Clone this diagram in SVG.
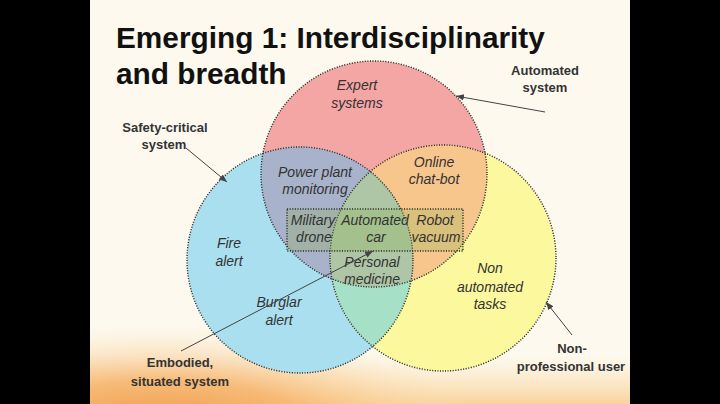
<svg xmlns="http://www.w3.org/2000/svg" width="720" height="404" viewBox="0 0 720 404">
<style>
.title{font-family:"Liberation Sans",Arial,sans-serif;font-weight:bold;font-size:29.8px;fill:#111}
.lab{font-family:"Liberation Sans",Arial,sans-serif;font-weight:bold;font-size:13px;fill:#333;text-anchor:middle}
.it{font-family:"Liberation Sans",Arial,sans-serif;font-style:italic;font-size:14px;fill:#333;text-anchor:middle}
.outline{fill:none;stroke:#2a2a2a;stroke-width:1.4;stroke-dasharray:1.1 1.5}
.conn{fill:none;stroke:#444;stroke-width:1;marker-end:url(#arr)}
</style>
<defs>
<marker id="arr" viewBox="0 0 10 10" refX="10" refY="5" markerWidth="8" markerHeight="8" markerUnits="userSpaceOnUse" orient="auto">
<path d="M0,1 L10,5 L0,9 z" fill="#444"/>
</marker>
<clipPath id="cR"><circle cx="374" cy="174" r="113"/></clipPath>
<clipPath id="cB"><circle cx="300" cy="260" r="113"/></clipPath>
<clipPath id="cY"><circle cx="443" cy="258" r="113"/></clipPath>
<clipPath id="slide"><rect x="90" y="0" width="540" height="404"/></clipPath>
<radialGradient id="glow" cx="0.5" cy="0.5" r="0.5">
<stop offset="0" stop-color="#f09848"/>
<stop offset="0.45" stop-color="#f6b46c" stop-opacity="0.85"/>
<stop offset="1" stop-color="#fbe4bd" stop-opacity="0"/>
</radialGradient>
<linearGradient id="band" x1="0" y1="0" x2="0" y2="1">
<stop offset="0" stop-color="#fbe2b8" stop-opacity="0"/>
<stop offset="1" stop-color="#f8cf92" stop-opacity="0.9"/>
</linearGradient>
</defs>
<rect x="0" y="0" width="720" height="404" fill="#000"/>
<g clip-path="url(#slide)">
<rect x="90" y="0" width="540" height="404" fill="#fdf9ee"/>
<rect x="90" y="355" width="540" height="49" fill="url(#band)"/>
<ellipse cx="160" cy="425" rx="320" ry="100" fill="url(#glow)"/>
</g>
<g id="regions">
<circle cx="374" cy="174" r="113" fill="#f4a6a4"/>
<circle cx="300" cy="260" r="113" fill="#aadff0"/>
<circle cx="443" cy="258" r="113" fill="#fbf89e"/>
<circle cx="300" cy="260" r="113" fill="#a9b2cb" clip-path="url(#cR)"/>
<circle cx="443" cy="258" r="113" fill="#f7c68c" clip-path="url(#cR)"/>
<circle cx="443" cy="258" r="113" fill="#a6e0c6" clip-path="url(#cB)"/>
<g clip-path="url(#cR)"><circle cx="443" cy="258" r="113" fill="#aec6a6" clip-path="url(#cB)"/></g>
</g>
<g id="title">
<text class="title" x="116" y="48">Emerging 1: Interdisciplinarity</text>
<text class="title" x="116" y="84">and breadth</text>
</g>
<g id="automated-circle">
<circle class="outline" cx="374" cy="174" r="113"/>
<text class="it" x="357" y="90">Expert</text>
<text class="it" x="357" y="108">systems</text>
</g>
<g id="safety-circle">
<circle class="outline" cx="300" cy="260" r="113"/>
<text class="it" x="229" y="248">Fire</text>
<text class="it" x="229" y="266">alert</text>
<text class="it" x="279" y="307">Burglar</text>
<text class="it" x="279" y="325">alert</text>
</g>
<g id="nonprof-circle">
<circle class="outline" cx="443" cy="258" r="113"/>
<text class="it" x="490" y="273">Non</text>
<text class="it" x="490" y="292">automated</text>
<text class="it" x="490" y="309">tasks</text>
</g>
<g id="power-plant">
<text class="it" x="315" y="177">Power plant</text>
<text class="it" x="315" y="194">monitoring</text>
</g>
<g id="chat-bot">
<text class="it" x="434" y="167">Online</text>
<text class="it" x="434" y="184">chat-bot</text>
</g>
<g id="personal-medicine">
<text class="it" x="372" y="267">Personal</text>
<text class="it" x="372" y="284">medicine</text>
</g>
<g id="embodied-box">
<rect x="287" y="209" width="176" height="42" fill="#8cb050" fill-opacity="0.28" stroke="#2a2a2a" stroke-width="1.4" stroke-dasharray="1.1 1.5"/>
<text class="it" x="313" y="225">Military</text>
<text class="it" x="314" y="242">drone</text>
<text class="it" x="375" y="225">Automated</text>
<text class="it" x="376" y="242">car</text>
<text class="it" x="435" y="225">Robot</text>
<text class="it" x="436" y="242">vacuum</text>
</g>
<g id="label-automated">
<text class="lab" x="545" y="75">Automated</text>
<text class="lab" x="545" y="92">system</text>
</g>
<g id="label-safety">
<text class="lab" x="165" y="132">Safety-critical</text>
<text class="lab" x="164" y="149">system</text>
</g>
<g id="label-embodied">
<text class="lab" x="180" y="367">Embodied,</text>
<text class="lab" x="180" y="386">situated system</text>
</g>
<g id="label-nonprof">
<text class="lab" x="572" y="353">Non-</text>
<text class="lab" x="571" y="371">professional user</text>
</g>
<g id="connectors">
<line class="conn" x1="545" y1="112" x2="456" y2="96"/>
<line class="conn" x1="186" y1="148" x2="227" y2="182"/>
<line class="conn" x1="181" y1="351" x2="373" y2="251"/>
<line class="conn" x1="572" y1="335" x2="546" y2="302"/>
</g>
</svg>
